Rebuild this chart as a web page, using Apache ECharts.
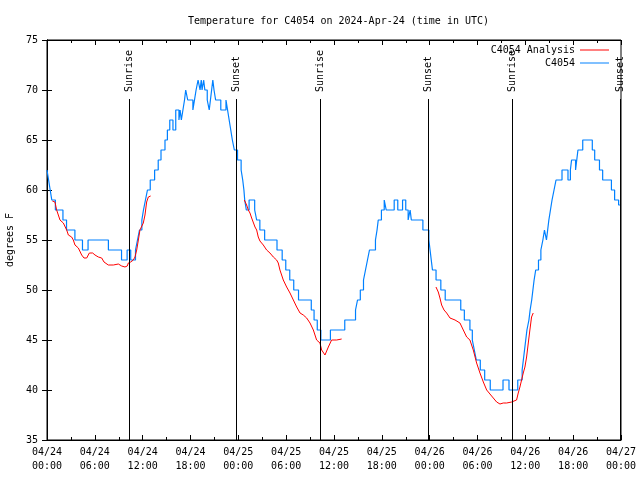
<!DOCTYPE html>
<html>
<head>
<meta charset="utf-8">
<script src="https://cdn.jsdelivr.net/npm/echarts@6/dist/echarts.min.js"></script>
<style>html,body{margin:0;padding:0;background:#fff}#c{width:640px;height:480px}</style>
</head>
<body>
<div id="c"></div>
<script>
// hours since 2024-04-24 00:00 UTC
var blueTimes = [0.0,0.2,0.4,0.6,1.05,2.0,2.45,3.5,4.45,5.15,7.7,9.35,10.05,10.5,11.1,11.35,11.6,11.9,12.1,12.35,12.6,12.95,13.5,13.95,14.3,14.8,15.1,15.4,15.8,16.15,16.55,16.7,16.85,17.05,17.25,17.4,17.65,18.3,18.5,18.7,18.95,19.2,19.35,19.45,19.65,19.8,20.1,20.35,20.5,20.65,20.8,20.95,21.15,21.8,22.45,22.65,22.85,23.05,23.25,23.5,23.9,24.35,24.55,24.7,24.8,25.0,25.35,26.05,26.3,26.7,27.3,28.85,29.5,29.95,30.45,30.95,31.55,33.15,33.5,33.9,34.35,35.55,37.35,38.7,38.95,39.3,39.7,39.95,40.2,40.45,41.2,41.4,41.55,41.95,42.3,42.55,43.55,44.0,44.6,45.0,45.3,45.55,45.7,47.15,47.9,48.05,48.2,48.35,48.8,49.4,49.95,51.9,52.35,53.05,53.35,53.6,53.85,54.35,54.9,55.6,57.2,57.95,59.05,59.6,59.75,59.9,60.05,60.2,60.45,60.6,60.8,60.95,61.1,61.3,61.65,61.95,62.2,62.4,62.65,62.8,62.95,63.15,63.35,63.6,63.85,64.6,65.35,65.65,65.8,66.3,66.45,66.6,67.2,68.4,68.7,69.3,69.7,70.8,71.2,71.7,71.9,72.0];
var blueTemps = [62,61,60,59,58,57,56,55,54,55,54,53,54,53,54,55,56,57,58,59,60,61,62,63,64,65,66,67,66,68,67,68,67,68,69,70,69,68,69,70,71,70,71,70,71,70,69,68,69,70,71,70,69,68,69,68,67,66,65,64,63,62,61,60,59,58,59,58,57,56,55,54,53,52,51,50,49,48,47,46,45,46,47,48,49,50,51,52,53,54,55,56,57,58,59,58,59,58,59,58,57,58,57,56,55,54,53,52,51,50,49,48,47,46,45,44,43,42,41,40,41,40,41,42,43,44,45,46,47,48,49,50,51,52,53,54,55,56,55,56,57,58,59,60,61,62,61,62,63,62,63,64,65,64,63,62,61,60,59,58.5,58.5];

var redTimes = [0.67,1.0,1.21,1.42,1.63,2.05,2.47,2.68,3.09,3.3,3.51,3.93,4.35,4.64,4.98,5.31,5.73,6.02,6.44,6.86,7.15,7.69,8.32,8.95,9.37,9.78,10.07,10.2,10.5,10.83,11.04,11.25,11.46,11.66,11.87,12.08,12.29,12.5,12.71,13.0,
  18.0,
  24.75,25.04,25.25,25.46,25.67,25.88,26.09,26.3,26.5,26.71,27.13,27.55,27.97,28.39,28.8,29.01,29.22,29.64,30.06,30.48,30.9,31.32,31.74,32.15,32.57,32.99,33.41,33.82,34.24,34.45,34.87,35.29,35.7,36.33,36.96,
  42.0,
  48.79,49.08,49.29,49.5,49.8,50.13,50.55,51.18,51.8,52.22,52.64,53.05,53.47,53.89,54.31,54.73,55.15,55.77,56.4,56.82,57.23,57.65,58.28,58.9,59.11,59.32,59.53,59.74,59.95,60.16,60.37,60.57,60.78,60.99];
var redTemps = [58.9,58.8,58,57.8,57,56.7,56,55.5,55.3,55,54.5,54.2,53.5,53.2,53.2,53.7,53.7,53.5,53.3,53.2,52.8,52.5,52.5,52.6,52.4,52.3,52.4,52.7,52.8,53,53.3,54,55,56,56,56.7,57.5,58.8,59.3,59.4,
  null,
  59,58.5,58,57.7,57.2,57,56.3,56,55.3,54.9,54.5,54,53.7,53.3,53,52.7,52,51,50.3,49.7,49,48.3,47.7,47.5,47.2,46.7,46,45,44.7,44,43.5,44.3,45,45,45.1,
  null,
  50.3,49.8,49.2,48.5,48,47.7,47.2,47,46.7,46,45.3,45,44,42.7,41.7,40.8,40,39.4,38.8,38.6,38.7,38.7,38.8,39,39.7,40.3,41,41.7,42.3,43.3,44.7,46,47.3,47.7];

var sunHours  = [10.32, 23.75, 34.28, 47.83, 58.37, 71.96];
var sunLabels = ['Sunrise','Sunset','Sunrise','Sunset','Sunrise','Sunset'];
var xTickLabels = ['04/24\n00:00','04/24\n06:00','04/24\n12:00','04/24\n18:00','04/25\n00:00','04/25\n06:00','04/25\n12:00','04/25\n18:00','04/26\n00:00','04/26\n06:00','04/26\n12:00','04/26\n18:00','04/27\n00:00'];

var FONT = 'DejaVu Sans Mono';
var lineTop = 69.1, labelBase = 69.8;

var markData = [];
sunHours.forEach(function (h, i) {
  markData.push([
    {coord: [h, 35], lineStyle: {color: '#000', width: 1, type: 'solid'}, label: {show: false}},
    {coord: [h, lineTop]}
  ]);
  markData.push([
    {coord: [h, labelBase], lineStyle: {color: 'rgba(0,0,0,0)', width: 1},
     label: {show: true, position: 'insideStart', distance: 0, formatter: sunLabels[i],
             fontFamily: FONT, fontSize: 10, color: '#000'}},
    {coord: [h, 75]}
  ]);
});

var chart = echarts.init(document.getElementById('c'), null, {renderer: 'canvas'});
var axisCommon = {
  type: 'value', min: 0, max: 72, interval: 6,
  axisLine: {show: true, lineStyle: {color: '#000', width: 1}},
  axisTick: {show: true, inside: true, length: 5, lineStyle: {color: '#000'}},
  minorTick: {show: true, splitNumber: 2, length: 3, lineStyle: {color: '#000'}},
  splitLine: {show: false}
};
chart.setOption({
  animation: false,
  backgroundColor: '#fff',
  title: {
    text: 'Temperature for C4054 on 2024-Apr-24 (time in UTC)',
    left: 183, top: 11,
    textStyle: {fontFamily: FONT, fontSize: 10, fontWeight: 'normal', color: '#000'}
  },
  legend: {
    data: ['C4054 Analysis', 'C4054'],
    orient: 'vertical', right: 31, top: 44, align: 'right', padding: 0,
    icon: 'rect', itemWidth: 29, itemHeight: 1, itemGap: 1,
    textStyle: {fontFamily: FONT, fontSize: 10, color: '#000', lineHeight: 12},
    selectedMode: false
  },
  grid: {left: 47, right: 19, top: 40, bottom: 40, show: true, borderColor: '#000', borderWidth: 1,
         containLabel: false, outerBoundsMode: 'none'},
  xAxis: [
    Object.assign({}, axisCommon, {
      position: 'bottom',
      axisLabel: {
        fontFamily: FONT, fontSize: 10, color: '#000', margin: 5, lineHeight: 14,
        formatter: function (v) { return xTickLabels[Math.round(v / 6)]; }
      }
    }),
    Object.assign({}, axisCommon, {position: 'top', axisLabel: {show: false}})
  ],
  yAxis: [
    {
      type: 'value', min: 35, max: 75, interval: 5, position: 'left',
      name: 'degrees F', nameLocation: 'middle', nameGap: 31, nameRotate: 90,
      nameTextStyle: {fontFamily: FONT, fontSize: 10, color: '#000'},
      axisLine: {show: true, lineStyle: {color: '#000'}},
      axisTick: {show: true, inside: true, length: 5, lineStyle: {color: '#000'}},
      axisLabel: {fontFamily: FONT, fontSize: 10, color: '#000', margin: 9},
      splitLine: {show: false}
    },
    {
      type: 'value', min: 35, max: 75, interval: 5, position: 'right',
      axisLine: {show: true, lineStyle: {color: '#000'}},
      axisTick: {show: true, inside: true, length: 5, lineStyle: {color: '#000'}},
      axisLabel: {show: false},
      splitLine: {show: false}
    }
  ],
  series: [
    {
      name: 'C4054', type: 'line', step: 'end', showSymbol: false, symbol: 'none',
      color: '#0080ff',
      lineStyle: {color: '#0080ff', width: 1.2},
      data: blueTimes.map(function (t, i) { return [t, blueTemps[i]]; }),
      markLine: {silent: true, symbol: ['none', 'none'], animation: false, data: markData},
      z: 2
    },
    {
      name: 'C4054 Analysis', type: 'line', showSymbol: false, symbol: 'none',
      color: '#ff0000', connectNulls: false,
      lineStyle: {color: '#ff0000', width: 1},
      data: redTimes.map(function (t, i) { return [t, redTemps[i] == null ? '-' : redTemps[i]]; }),
      z: 3
    }
  ]
});
</script>
</body>
</html>
